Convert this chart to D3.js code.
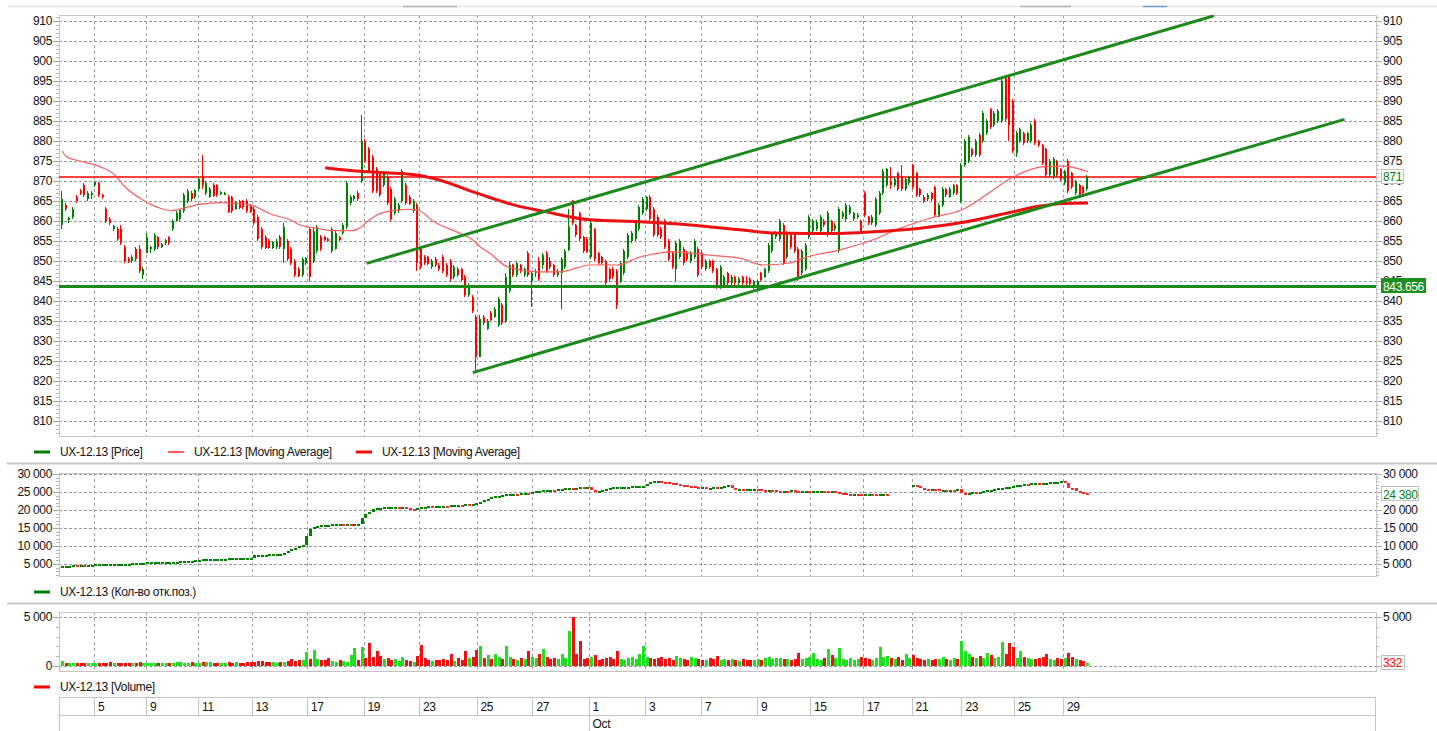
<!DOCTYPE html>
<html lang="en">
<head>
    <meta charset="UTF-8" />
    <title>UX-12.13</title>
    <script src="https://d3js.org/d3.v7.min.js"></script>
    <style>
        body { margin: 0; background: #fff; }
        #chart { display: block; font-family: "Liberation Sans", Arial, sans-serif; }
        .lbl { font-size: 12px; letter-spacing: -0.35px; fill: #111; }
        .leg { font-size: 12px; letter-spacing: -0.35px; fill: #111; }
    </style>
</head>
<body>
    <svg id="chart" width="1437" height="731"></svg>
    <script>
        // --- Data ---
        // hourly candles [open, high, low, close]
        const candles = [
            [859,867.5,858,865.5],[864,864.5,862.5,863],[860.2,861,859.5,860.8],[861,863.5,860.5,863],[866,866.5,864.5,865],[867.5,868,866.5,867],[869,869.5,866,866.5],[865.5,867.5,865,867],[866.5,867.5,865.5,867],[869,870,868.5,869.8],
            [869.5,869.8,866,866.5],[866.5,866.8,865.5,866],[863,863.5,859.5,860],[860.5,861,859,859.5],[858,859,857.5,858.8],[858,858.5,855,855.5],[858,859,854,854.5],[853.5,854,849.5,850],[850.5,851,849.5,850],[850,851.5,849.5,851],
            [853,853.5,850,850.5],[853,854,847,847.5],[846.5,848.5,845.5,848],[852,857,852,856],[853,853.8,852,853.5],[853,857,852.5,856.5],[856,856.2,853,853.5],[853.5,854.5,853.2,854.2],[854.5,855.5,854,855.2],[856,856.2,854,854.5],
            [858,860.5,857.5,860],[860,862.5,859.8,862],[860.5,863,860,862.8],[862.5,867,862,866.5],[865,868,864.5,867.5],[867,867.5,865,865.5],[866,868,865.5,867.8],[868,871,867.5,870.5],[871,876.5,868,869],[867,870,866.5,869.5],
            [866,868.5,865.8,868],[869,869.5,866,866.3],[869,869.2,866,866.5],[867,867.5,866.5,867.2],[866.8,867.3,866.5,867],[866,866.5,862,862.3],[866,866.3,862,862.5],[863,865,862.8,864.8],[865,865.3,863,863.3],[865,865.2,863,863.5],
            [865,865.5,862,862.5],[864,864.3,862,862.3],[863,863.5,859,859.5],[861,861.5,855,855.5],[858,858.5,853,853.5],[856,856.5,853,853.2],[855,855.5,853,853.3],[853.3,855,853,854.8],[853.5,855.5,853,855],[856,856.5,853,853.5],
            [853,859.5,849.5,858.5],[855,855.5,850,850.5],[853,853.5,849,849.5],[850,850.5,846,846.5],[848,848.5,846,846.3],[846.5,851,846,850.5],[849.5,851,849,850.8],[858,858.5,845,846],[850,858.5,849.5,857.5],[852.5,859,852,858.5],
            [856,856.5,852.5,853],[856,856.3,855,855.2],[855.5,855.8,854.8,855],[852.5,858.5,852,858],[853,857.5,852.8,857],[856,856.3,855,855.3],[857,859.5,856.5,859],[858.5,870,858,869.5],[864.5,866.5,864,866],[865.5,866.5,865,866.3],
            [867,867.5,865,865.5],[870,886.5,869.5,880],[880,880.5,874.5,875],[878,878.5,872,872.5],[876,876.5,867,867.5],[873,873.5,867,867.5],[872,872.5,866,866.5],[869,872.5,868.5,872],[871,871.5,864,864.5],[868,868.5,860,860.5],
            [862,866,861.5,865.5],[862.5,864.5,862,864],[865,873,864.5,872.5],[869,869.5,864,864.5],[866,866.5,864,864.3],[862.5,865.5,862,865],[864,864.5,847.5,849.5],[853,853.5,848,848.5],[851,851.5,849,849.5],[851,851.3,849,849.3],
            [848.5,850.5,848,850],[850.5,851,848.5,849],[849,849.5,847.5,848],[851,851.5,847,847.5],[849,849.5,846,846.5],[850,850.5,845,845.5],[846,849,845.5,848.5],[848,848.5,846,846.5],[848,848.3,845,845.3],[846,846.5,841,841.5],
            [841.5,844.5,841,844],[841,841.5,837,837.5],[836,836.5,822,826],[826,836.5,826,835.5],[836,836.5,834,834.5],[833,835.5,832.8,835],[837,837.5,835,835.3],[836,838.5,835.8,838],[834,841,833.5,840.5],[839,839.5,834,834.5],
            [835,847,834.5,846],[842.5,850,842,849],[849,849.3,846,846.5],[846.5,850,846,849.5],[849,849.3,847,847.5],[846.5,848.3,846,848],[852,852.5,846,846.5],[845,847.5,838.5,847],[847,848,846,847.5],[850,851,845,845.5],
            [849,852,848,851.5],[852,852.5,847,847.5],[850,851,848,848.5],[849,849.3,846,846.5],[846.5,848,846,847.5],[847,851,838,850.5],[848.5,853,848,852.5],[852.7,863,852.5,858.5],[865,865.3,859,859.5],[859,859.3,856,856.5],
            [862,862.3,855,855.5],[856,856.3,852,852.5],[855.5,856,852,852.3],[851,860,850.5,859.5],[858,858.3,850,850.5],[852,852.3,849,849.5],[851,851.3,849,849.5],[850,850.3,844,844.5],[848,848.3,845,845.5],[848,848.5,845.5,846],
            [847.5,848,838,839],[845,850,844.5,849.5],[847,853,846.5,852.5],[851,857,850.5,856.5],[855,857.5,854.5,857],[855.5,860,855,859.5],[858,864,857.5,863.5],[862,866,861.5,865.5],[863,866.2,862.5,866],[866,866.5,860,860.5],
            [863,863.5,856,856.5],[861,861.5,856,856.5],[858,858.5,855.5,856],[860,860.5,853,853.5],[855,855.5,850,850.5],[852,852.5,848,848.5],[848,855,845,854.5],[851,855.5,850.5,855],[853,853.5,849,849.5],[852,852.5,850,850.5],
            [850,852.5,849.5,852],[851,855.5,850.5,855],[853,853.5,846,846.5],[852,852.5,848,848.5],[848,850.5,847.5,850],[850,850.3,848,848.5],[850,850.3,847,847.5],[848,848.3,843,843.5],[843.5,849,843,848.5],[844,846.5,843.5,846],
            [847,847.3,844,844.5],[844.5,846.5,844,846],[846,846.3,844,844.5],[844.5,846,844,845.5],[846,846.3,844,844.5],[845,846.3,844,844.5],[845.5,846,844,844.3],[843.5,845.3,843,845],[843.3,845.2,843,845],[847,847.3,845,845.3],
            [846,848.3,845.8,848],[847.5,854.5,847,854],[852.5,857.3,852,857],[856,857.5,855.5,857],[855.5,860.5,855,860],[859,859.5,849,849.5],[851,857.5,850.5,857],[856.5,857,853,853.5],[857,857.3,852,852.5],[853,853.5,845,846],
            [847,853,846.5,852.5],[848,854.5,847.5,854],[856,861.5,855.5,861],[857.5,860.5,857,860],[858,860.3,857.5,859.8],[857.5,861.5,857,861],[860,860.5,858.5,859],[856.5,862.5,856,862],[860,860.3,857,857.5],[858,859.5,857.5,859],
            [852.5,863.5,852,863],[861,862.5,860.5,862],[860.5,864.5,860,864],[862,864,861.5,863.5],[860.5,862.3,860,862],[861,862,860.5,861.5],[860,860.3,857,857.5],[867,867.5,861,861.5],[861,861.3,859,859.5],[859.5,861.5,859,861],
            [859,866,858.5,865.5],[862,867.5,861.5,867],[867,873,866.5,872.5],[869,873.3,868.5,873],[870,873.5,868,869],[869,871,868.5,870.5],[872,872.3,867.5,868],[871,874,867.5,868],[868,871,867.5,870.5],[869.5,871.3,869,871],
            [874,874.3,868,868.5],[872,872.3,866,866.5],[868,868.3,866,866.5],[866,866.5,864.5,865],[865.5,867,865,866.5],[867,867.3,865,865.5],[868.5,868.8,861,861.5],[861,864.5,861,864],[864,868.5,863.5,868],[868,868.3,866,866.5],
            [866,868.5,865.8,868],[867,869.3,866.5,869],[869,869.2,866.5,867],[865,874.5,864.5,874],[874,880.5,873.5,880],[875,881.5,874.5,881],[878,878.3,876,876.5],[876.5,880.5,876,880],[881.5,882,876,876.5],[880,887.5,879.5,887],
            [882,885.5,881.5,885],[888,888.3,883,883.5],[884,887.5,883.5,887],[885,888,884.5,887.5],[885,895.5,884.5,895],[896,896.5,885,885.5],[896,896.3,880,884],[890,890.5,877,877.5],[877,882.5,876,882],[880,883.3,879.5,883],
            [882,882.3,879,879.5],[880,882.3,879.5,882],[880,884.5,879.5,884],[885,885.5,879,879.5],[880,880.3,878.5,879],[879,879.3,874,874.5],[878,878.3,871,871.5],[871.5,875.5,871,875],[871,876,870.5,875.5],[875,875.3,871,871.5],
            [873,873.3,870,870.5],[869.5,872.8,869,872.5],[875,875.5,867,867.5],[872,872.3,868,868.5],[867,870.3,866.5,870],[869,869.3,866,866.5],[868.5,868.8,866.5,867],[868,871.5,867.5,871]
        ];

        // open interest (Кол-во отк.поз.), one value per candle, null = no data
        const openInterest = [
            4300,4300,4300,4350,4300,4350,4300,4400,4400, 4600,
            4700,4700,4750,4750,4800,4800,4800,4850,4850,4900,4900,4900,4950,
            5200,5200,5200,5250,5300,5300,5300,5350,5400,
            5500,5500,5600,5600,5700,5800,
            6000,6000,6050,6100,6100,6200,6200,6300,6300,6400,6400,6500,6500,6500,
            7200,7300,7300,7300,7400,7400,7400,7500,
            7800,8200,8800,9200,9600,10000, 12500,14400,
            15000,15300,15500,15500,15600,15700,15800,
            15800,15700,15800,15700,15800,15800,
            17500,18500,19300,19900, 20200,20400,20500,20500,
            20500,20600,20400,20500,20300,20100,19800,20200,
            20500,20600,20700,20600,20800,20800,20900,20800,21000,
            21000,21200,21100,21300,21200,21500,21600,
            22000,22400,22800,23200,23500,23700,
            24000,24100,24200,24300,24200,24400,24500,24400,24600,
            25000,25100,25200,25300,25400,25300,25500,25600,
            25800,25900,25800,25900,26000,25900,26000,
            25300,25000,25100,
            25400,25600,25800,26000,26000,26100,26200,26200,26300,26300,26400,26500,
            27000,27500,27800,27800,27600,27500,
            27300,27200,27000,26800,26600,
            26400,26300,26200,26000,26000,25900,25900,26000,
            25900,26000,26500,26600,
            25800,25600,25600,25500,25500,25600,25600,25500,
            25300,25200,25300,25200,25100,25000,25100,25000,25200,25100,25000,25000,25100,25000,
            25000,25000,25100,25000,24900,25000,24800,
            24500,24400,24300,24200,24300,24200,24100,24200,24300,24200,24000,24100,24200,24100,
            null,null,null,null,null,null,
            26600,26400,
            25800,25600,25500,25600,25500,25400,25400,25300,25400,25300,25500,
            24500,24400,24500,24600,24500,24800,25000,
            25200,25400,25500,25700,25900,26000,26200,26500,26700,
            26800,27000,26900,27100,27200,27100,27300,27300,27400,27500,27600,27800,
            27200,25900,25800,25000,24700,24500,24380
        ];

        // volume, one value per candle
        const volume = [
            500,300,350,280,300,320,300,350,280,300,
            350,300,320,400,350,300,280,320,350,300,
            300,420,350,300,350,300,320,300,280,350,
            320,380,450,350,300,400,350,300,420,380,
            380,300,350,320,300,400,300,380,350,350,
            420,380,450,550,480,400,380,450,350,400,
            450,550,700,500,650,600,1400,700,1600,700,
            600,650,800,500,450,600,500,400,1100,1800,
            600,1900,800,2300,900,1500,1000,700,800,600,
            700,550,900,600,500,450,1000,2100,800,600,
            500,650,600,700,600,1200,550,800,600,1500,
            800,900,1600,2000,800,1100,700,1200,900,700,
            2000,900,700,600,800,750,1500,900,800,1200,
            1700,900,700,800,750,1200,800,3600,5000,1200,
            2600,700,800,900,1100,650,700,800,900,700,
            1500,700,600,800,900,700,1200,2000,900,800,
            700,850,900,700,800,650,1000,800,700,600,
            900,800,700,600,650,800,700,1000,600,700,
            650,700,600,550,700,600,650,600,700,650,
            800,900,700,850,800,750,700,650,700,1300,
            700,800,900,1300,700,600,800,1700,1100,800,
            1800,700,650,800,600,700,900,800,700,650,
            800,1900,900,1000,800,700,900,650,1200,800,
            1100,800,700,600,700,650,700,750,900,700,
            650,800,700,2600,1500,1200,900,800,1000,800,
            1300,1100,800,900,2500,1200,2300,1900,800,1500,
            900,800,700,750,800,900,1200,700,650,800,
            700,800,1300,900,700,650,500,332
        ];

        // moving averages as [candle index, value]
        const maFast = [
            [0.3,877.5],[1.6,876],[5.1,875],[10.5,873.6],[14.1,871.9],[17.3,868.5],[22.2,865.2],[26.8,863.2],[30,862.6],[33.5,863.3],
            [37.6,864.2],[43,864.6],[48.4,864.3],[51.9,863.8],[56.5,861.8],[62.7,860],[64.6,859],[69.2,858.2],[73.5,857.6],[78.9,857.6],
            [80.8,858.3],[82.7,859.8],[85.4,861.5],[89.7,862.6],[94.3,862.9],[96.5,862.7],[100.5,860],[107.8,856.9],[111.4,855.2],[113.2,853.6],
            [116,851.9],[120.5,848.6],[128.6,847.3],[134.9,847.3],[143,849],[150.3,849],[156.5,851],[165.4,852.3],[174.6,851.5],[183.5,850.7],
            [189.7,849],[197,849.5],[201.6,851],[210.5,852.8],[219.5,855.3],[226.8,858.2],[236,861],[243.5,862.8],[250,866.5],[257.3,871],
            [265.7,873.6],[271.1,873.7],[277.6,872.3]
        ];
        const maSlow = [
            [71.4,873.3],[78.1,872.6],[86.2,872.1],[91.6,871.9],[97,871.4],[102.4,870.2],[113.2,866.7],[124.1,863.6],[129.5,862.6],[143,860.3],
            [156.5,859.8],[170,859],[183.5,857.8],[192.4,857],[201.6,856.9],[210.5,856.9],[219.5,857.3],[232.2,858.2],[243.5,859.6],[257.3,862.3],
            [263.8,863.6],[271.1,864.4],[277.6,864.5]
        ];

        // trend channel and levels
        const channelUpper = [[82.6, 849.4], [311.6, 911.3]];
        const channelLower = [[111.3, 822.1], [346.9, 885.4]];
        const supportLevel = 843.656;
        const lastPrice = 871;
        const lastOI = 24380;
        const lastVolume = 332;

        // axes
        const priceTicks = [810,815,820,825,830,835,840,845,850,855,860,865,870,875,880,885,890,895,900,905,910];
        const oiTicks = [5000,10000,15000,20000,25000,30000];
        const volTicks = [0,5000];
        const volTicksRight = [5000];
        const dayTicks = [8.92,22.97,37.03,51.49,66.49,81.76,96.76,112.3,127.43,142.57,157.84,172.97,188.11,202.43,216.76,229.89,243.35,257.57,270.81];
        const dayLabels = ["5","9","11","13","17","19","23","25","27","1","3","7","9","15","17","21","23","25","29"];
        const monthTicks = [142.57];
        const monthLabels = ["Oct"];

        // --- Setup ---
        const GREEN = "#008000", RED = "#ff0000";
        const VOL_GREEN = "#1ee01e", VOL_RED = "#f01010";
        const LINE_GREEN = "#1b8a1b";
        const FRAME = "#c4c4c4", GRID = "#9a9a9a";
        const plotL = 59, plotR = 1376;

        const panels = {
            price: { top: 15, bottom: 436 },
            oi: { top: 473, bottom: 576 },
            vol: { top: 612, bottom: 671 }
        };

        const svg = d3.select("#chart");
        const fmt = d3.formatLocale({ decimal: ".", thousands: " ", grouping: [3], currency: ["", ""] }).format(",");

        const x = d3.scaleLinear().domain([0, 277]).range([61, 61 + 277 * 3.7]);
        const yPrice = d3.scaleLinear().domain([810, 910]).range([421, 21]);
        const yOI = d3.scaleLinear().domain([5000, 30000]).range([564, 474]);
        const yVol = d3.scaleLinear().domain([0, 5000]).range([666, 617]);

        const px = v => Math.round(v) + 0.5;
        const up = d => d[3] >= d[0];

        // clip paths
        const defs = svg.append("defs");
        Object.entries(panels).forEach(([key, p]) => {
            defs.append("clipPath").attr("id", "clip-" + key)
                .append("rect")
                .attr("x", plotL).attr("y", p.top)
                .attr("width", plotR - plotL).attr("height", p.bottom - p.top);
        });

        // top toolbar remnants
        svg.append("line").attr("x1", 8).attr("x2", 1437).attr("y1", 6.5).attr("y2", 6.5)
            .attr("stroke", "#e2e2e2").attr("stroke-width", 1.5);
        [[403, 457, "#b4b4b4"], [1020, 1071, "#b4b4b4"], [1143, 1167, "#6a9fd8"]].forEach(s => {
            svg.append("line").attr("x1", s[0]).attr("x2", s[1]).attr("y1", 6.5).attr("y2", 6.5)
                .attr("stroke", s[2]).attr("stroke-width", 1.5);
        });

        // separators between panels
        [463.5, 603.5].forEach(yy => {
            svg.append("line").attr("x1", 7).attr("x2", 1437).attr("y1", yy).attr("y2", yy)
                .attr("stroke", "#c8c8c8").attr("stroke-width", 2);
        });

        // --- Panel scaffolding: frame, grid, axis ticks ---
        function drawPanel(p, scale, ticks, minorTicks, gridTicks) {
            const g = svg.append("g");
            // horizontal grid
            g.selectAll("line.hg").data(gridTicks).join("line")
                .attr("x1", plotL).attr("x2", plotR)
                .attr("y1", d => px(scale(d))).attr("y2", d => px(scale(d)))
                .attr("stroke", GRID).attr("stroke-dasharray", "3,2");
            // vertical grid
            g.selectAll("line.vg").data(dayTicks).join("line")
                .attr("x1", d => px(x(d))).attr("x2", d => px(x(d)))
                .attr("y1", p.top).attr("y2", p.bottom)
                .attr("stroke", GRID).attr("stroke-dasharray", "3,3");
            // minor + major ticks both sides
            [[plotL, -1], [plotR, 1]].forEach(([edge, dir]) => {
                g.selectAll(null).data(minorTicks.filter(v => scale(v) >= p.top && scale(v) <= p.bottom)).join("line")
                    .attr("x1", edge).attr("x2", edge + dir * 3)
                    .attr("y1", d => px(scale(d))).attr("y2", d => px(scale(d)))
                    .attr("stroke", "#b8b8b8");
                g.selectAll(null).data(ticks).join("line")
                    .attr("x1", edge).attr("x2", edge + dir * 6)
                    .attr("y1", d => px(scale(d))).attr("y2", d => px(scale(d)))
                    .attr("stroke", "#a8a8a8");
            });
            g.append("rect")
                .attr("x", plotL + 0.5).attr("y", p.top + 0.5)
                .attr("width", plotR - plotL).attr("height", p.bottom - p.top)
                .attr("fill", "none").attr("stroke", FRAME);
            return g;
        }

        function drawLabels(scale, ticks, format, rightTicks) {
            const g = svg.append("g");
            g.selectAll("text.l").data(ticks).join("text")
                .attr("class", "lbl").attr("x", 52).attr("y", d => scale(d)).attr("dy", "0.36em")
                .attr("text-anchor", "end").text(format);
            g.selectAll("text.r").data(rightTicks || ticks).join("text")
                .attr("class", "lbl").attr("x", 1383).attr("y", d => scale(d)).attr("dy", "0.36em")
                .text(format);
        }

        drawPanel(panels.price, yPrice, priceTicks, d3.range(807, 912), priceTicks);
        drawPanel(panels.oi, yOI, oiTicks, d3.range(2000, 30001, 1000), oiTicks);
        drawPanel(panels.vol, yVol, volTicks, d3.range(0, 5001, 1000), volTicks);

        // --- Price panel ---
        const gPrice = svg.append("g").attr("clip-path", "url(#clip-price)");

        gPrice.append("line")
            .attr("x1", plotL).attr("x2", plotR)
            .attr("y1", yPrice(lastPrice)).attr("y2", yPrice(lastPrice))
            .attr("stroke", RED).attr("stroke-width", 1.4);

        gPrice.selectAll("line.wick").data(candles).join("line")
            .attr("x1", (d, i) => px(x(i))).attr("x2", (d, i) => px(x(i)))
            .attr("y1", d => yPrice(d[1])).attr("y2", d => yPrice(d[2]))
            .attr("stroke", d => up(d) ? GREEN : RED);

        gPrice.selectAll("rect.body").data(candles).join("rect")
            .attr("x", (d, i) => Math.round(x(i)))
            .attr("width", 2)
            .attr("y", d => yPrice(Math.max(d[0], d[3])))
            .attr("height", d => Math.max(1.5, Math.abs(yPrice(d[0]) - yPrice(d[3]))))
            .attr("fill", d => up(d) ? GREEN : RED)
            .attr("shape-rendering", "crispEdges");

        const maLine = d3.line().x(d => x(d[0])).y(d => yPrice(d[1])).curve(d3.curveMonotoneX);
        gPrice.append("path").attr("d", maLine(maFast))
            .attr("fill", "none").attr("stroke", "#ff5c5c").attr("stroke-width", 1.2);
        gPrice.append("path").attr("d", maLine(maSlow))
            .attr("fill", "none").attr("stroke", "#ee1010").attr("stroke-width", 3);

        const straight = d3.line().x(d => x(d[0])).y(d => yPrice(d[1]));
        [channelUpper, channelLower].forEach(seg => {
            gPrice.append("path").attr("d", straight(seg))
                .attr("fill", "none").attr("stroke", LINE_GREEN).attr("stroke-width", 3);
        });
        gPrice.append("line")
            .attr("x1", plotL).attr("x2", plotR)
            .attr("y1", yPrice(supportLevel)).attr("y2", yPrice(supportLevel))
            .attr("stroke", LINE_GREEN).attr("stroke-width", 3);

        drawLabels(yPrice, priceTicks, d => d);

        // --- Open interest panel ---
        const gOI = svg.append("g").attr("clip-path", "url(#clip-oi)");
        const oiBars = openInterest.map((v, i) => {
            const prev = i > 0 && openInterest[i - 1] != null ? openInterest[i - 1] : v;
            return { i, v, prev };
        }).filter(d => d.v != null);
        gOI.selectAll("rect").data(oiBars).join("rect")
            .attr("x", d => Math.round(x(d.i)))
            .attr("width", 2.5)
            .attr("y", d => yOI(Math.max(d.v, d.prev)) - 1)
            .attr("height", d => Math.max(2, Math.abs(yOI(d.v) - yOI(d.prev))))
            .attr("fill", d => d.v >= d.prev ? GREEN : "#ff2828")
            .attr("shape-rendering", "crispEdges");
        drawLabels(yOI, oiTicks, fmt);

        // --- Volume panel ---
        const gVol = svg.append("g").attr("clip-path", "url(#clip-vol)");
        gVol.selectAll("rect").data(volume).join("rect")
            .attr("x", (d, i) => Math.round(x(i)))
            .attr("width", 2.5)
            .attr("y", d => yVol(d))
            .attr("height", d => yVol(0) - yVol(d))
            .attr("fill", (d, i) => up(candles[i]) ? VOL_GREEN : VOL_RED)
            .attr("shape-rendering", "crispEdges");
        drawLabels(yVol, volTicks, fmt, volTicksRight);

        // --- Value boxes on right axis ---
        function valueBox(yy, text, w, fill, color, stroke) {
            svg.append("rect")
                .attr("x", 1381.5).attr("y", Math.round(yy) - 7.5)
                .attr("width", w).attr("height", 14)
                .attr("fill", fill).attr("stroke", stroke);
            svg.append("text").attr("class", "lbl")
                .attr("x", 1383).attr("y", yy).attr("dy", "0.36em")
                .style("fill", color).text(text);
        }
        valueBox(yPrice(lastPrice), lastPrice, 22, "#fff", GREEN, "#c0c0c0");
        valueBox(yPrice(supportLevel), supportLevel, 44, "#1f8f1f", "#fff", "#1f8f1f");
        valueBox(yOI(lastOI), fmt(lastOI), 37, "#fff", GREEN, "#c0c0c0");
        valueBox(yVol(lastVolume), lastVolume, 23, "#fff", RED, "#c0c0c0");

        // --- Legends ---
        const legends = [
            { y: 452, x: 34, color: GREEN, w: 3, text: "UX-12.13 [Price]" },
            { y: 452, x: 168, color: "#ff5c5c", w: 2, text: "UX-12.13 [Moving Average]" },
            { y: 452, x: 356, color: "#ee1010", w: 3, text: "UX-12.13 [Moving Average]" },
            { y: 592, x: 34, color: GREEN, w: 3, text: "UX-12.13 (Кол-во отк.поз.)" },
            { y: 687, x: 34, color: RED, w: 3, text: "UX-12.13 [Volume]" }
        ];
        legends.forEach(l => {
            svg.append("line").attr("x1", l.x).attr("x2", l.x + 16).attr("y1", l.y).attr("y2", l.y)
                .attr("stroke", l.color).attr("stroke-width", l.w);
            svg.append("text").attr("class", "leg").attr("x", l.x + 26).attr("y", l.y).attr("dy", "0.36em").text(l.text);
        });

        // --- Date axis ---
        const gAx = svg.append("g");
        gAx.append("rect").attr("x", plotL + 0.5).attr("y", 697.5).attr("width", 1316).attr("height", 40)
            .attr("fill", "none").attr("stroke", FRAME);
        gAx.append("line").attr("x1", plotL).attr("x2", 1375.5).attr("y1", 715.5).attr("y2", 715.5).attr("stroke", FRAME);
        gAx.selectAll("line.sep").data(dayTicks).join("line")
            .attr("x1", d => px(x(d))).attr("x2", d => px(x(d)))
            .attr("y1", 698).attr("y2", 715).attr("stroke", FRAME);
        gAx.selectAll("text.day").data(dayTicks).join("text")
            .attr("class", "lbl").attr("x", d => x(d) + 4).attr("y", 707).attr("dy", "0.36em")
            .text((d, i) => dayLabels[i]);
        gAx.selectAll("line.msep").data(monthTicks).join("line")
            .attr("x1", d => px(x(d))).attr("x2", d => px(x(d)))
            .attr("y1", 715).attr("y2", 731).attr("stroke", FRAME);
        gAx.selectAll("text.month").data(monthTicks).join("text")
            .attr("class", "lbl").attr("x", d => x(d) + 4).attr("y", 724).attr("dy", "0.36em")
            .text((d, i) => monthLabels[i]);
    </script>
</body>
</html>
